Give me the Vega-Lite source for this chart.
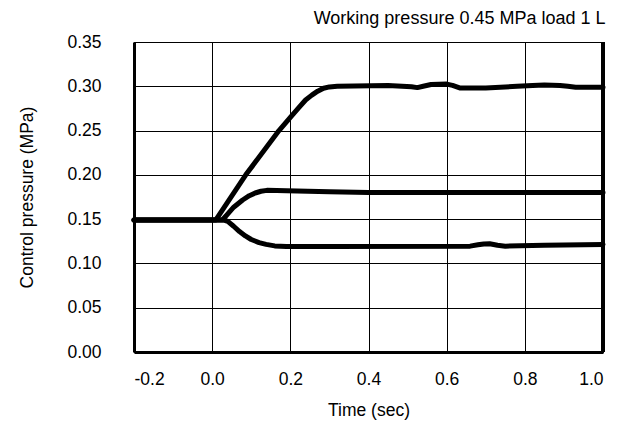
{
  "$schema": "https://vega.github.io/schema/vega-lite/v6.json",
  "autosize": "none",
  "width": 469,
  "height": 310,
  "padding": {"left": 134, "top": 42, "right": 23, "bottom": 71},
  "background": "white",
  "title": {
    "text": "Working pressure 0.45 MPa load 1 L",
    "anchor": "end",
    "font": "Liberation Sans",
    "fontSize": 18,
    "fontWeight": "normal",
    "color": "black",
    "offset": 5
  },
  "config": {
    "view": {"stroke": "black", "strokeWidth": 1},
    "axis": {
      "labelFont": "Liberation Sans",
      "titleFont": "Liberation Sans",
      "labelFontSize": 17.5,
      "titleFontSize": 17.5,
      "titleFontWeight": "normal",
      "labelColor": "black",
      "titleColor": "black",
      "grid": true,
      "gridColor": "black",
      "gridOpacity": 1,
      "gridWidth": 1,
      "domainColor": "black",
      "domainWidth": 3,
      "ticks": false
    }
  },
  "data": {
    "values": [
      {"series": "high", "t": -0.2, "p": 0.149},
      {"series": "high", "t": 0.009, "p": 0.149},
      {"series": "high", "t": 0.086, "p": 0.200},
      {"series": "high", "t": 0.171, "p": 0.250},
      {"series": "high", "t": 0.2, "p": 0.265},
      {"series": "high", "t": 0.22, "p": 0.275},
      {"series": "high", "t": 0.239, "p": 0.2845},
      {"series": "high", "t": 0.255, "p": 0.290},
      {"series": "high", "t": 0.27, "p": 0.2945},
      {"series": "high", "t": 0.285, "p": 0.2978},
      {"series": "high", "t": 0.30, "p": 0.2993},
      {"series": "high", "t": 0.32, "p": 0.300},
      {"series": "high", "t": 0.45, "p": 0.301},
      {"series": "high", "t": 0.51, "p": 0.2995},
      {"series": "high", "t": 0.525, "p": 0.2985},
      {"series": "high", "t": 0.54, "p": 0.300},
      {"series": "high", "t": 0.56, "p": 0.302},
      {"series": "high", "t": 0.6, "p": 0.3025},
      {"series": "high", "t": 0.615, "p": 0.301},
      {"series": "high", "t": 0.635, "p": 0.298},
      {"series": "high", "t": 0.7, "p": 0.298},
      {"series": "high", "t": 0.78, "p": 0.300},
      {"series": "high", "t": 0.82, "p": 0.301},
      {"series": "high", "t": 0.85, "p": 0.3015},
      {"series": "high", "t": 0.89, "p": 0.301},
      {"series": "high", "t": 0.91, "p": 0.300},
      {"series": "high", "t": 0.93, "p": 0.299},
      {"series": "high", "t": 1.0, "p": 0.299},
      {"series": "mid", "t": -0.2, "p": 0.149},
      {"series": "mid", "t": 0.026, "p": 0.149},
      {"series": "mid", "t": 0.04, "p": 0.156},
      {"series": "mid", "t": 0.055, "p": 0.1635},
      {"series": "mid", "t": 0.078, "p": 0.1716},
      {"series": "mid", "t": 0.095, "p": 0.1765},
      {"series": "mid", "t": 0.11, "p": 0.1795},
      {"series": "mid", "t": 0.125, "p": 0.1815},
      {"series": "mid", "t": 0.14, "p": 0.1825},
      {"series": "mid", "t": 0.19, "p": 0.182},
      {"series": "mid", "t": 0.3, "p": 0.181},
      {"series": "mid", "t": 0.4, "p": 0.180},
      {"series": "mid", "t": 1.0, "p": 0.180},
      {"series": "low", "t": -0.2, "p": 0.149},
      {"series": "low", "t": 0.03, "p": 0.149},
      {"series": "low", "t": 0.04, "p": 0.1475},
      {"series": "low", "t": 0.055, "p": 0.142},
      {"series": "low", "t": 0.07, "p": 0.136},
      {"series": "low", "t": 0.085, "p": 0.131},
      {"series": "low", "t": 0.1, "p": 0.127},
      {"series": "low", "t": 0.12, "p": 0.1235},
      {"series": "low", "t": 0.138, "p": 0.1215},
      {"series": "low", "t": 0.16, "p": 0.1198},
      {"series": "low", "t": 0.19, "p": 0.119},
      {"series": "low", "t": 0.3, "p": 0.119},
      {"series": "low", "t": 0.66, "p": 0.1195},
      {"series": "low", "t": 0.68, "p": 0.121},
      {"series": "low", "t": 0.695, "p": 0.122},
      {"series": "low", "t": 0.71, "p": 0.1222},
      {"series": "low", "t": 0.73, "p": 0.1205},
      {"series": "low", "t": 0.75, "p": 0.1195},
      {"series": "low", "t": 0.85, "p": 0.1205},
      {"series": "low", "t": 1.0, "p": 0.1215}
    ]
  },
  "layer": [
    {
      "mark": {"type": "line", "color": "black", "strokeWidth": 5, "interpolate": "linear", "strokeCap": "round", "strokeJoin": "round"},
      "encoding": {
        "x": {
          "field": "t", "type": "quantitative",
          "scale": {"domain": [-0.2, 1.0], "nice": false, "zero": false},
          "axis": {"values": [-0.2, 0, 0.2, 0.4, 0.6, 0.8, 1.0], "labelExpr": "datum.value < 0 ? '-' + format(-datum.value, '.1f') : format(datum.value, '.1f')", "title": "Time (sec)", "labelPadding": 18, "titlePadding": 14}
        },
        "y": {
          "field": "p", "type": "quantitative",
          "scale": {"domain": [0, 0.35], "nice": false},
          "axis": {"values": [0, 0.05, 0.1, 0.15, 0.2, 0.25, 0.3, 0.35], "format": ".2f", "title": "Control pressure (MPa)", "labelPadding": 33, "titlePadding": 30}
        },
        "detail": {"field": "series"}
      }
    },
    {
      "mark": {"type": "rule", "color": "black", "strokeWidth": 3},
      "encoding": {"x": {"datum": 1.0}}
    }
  ]
}
